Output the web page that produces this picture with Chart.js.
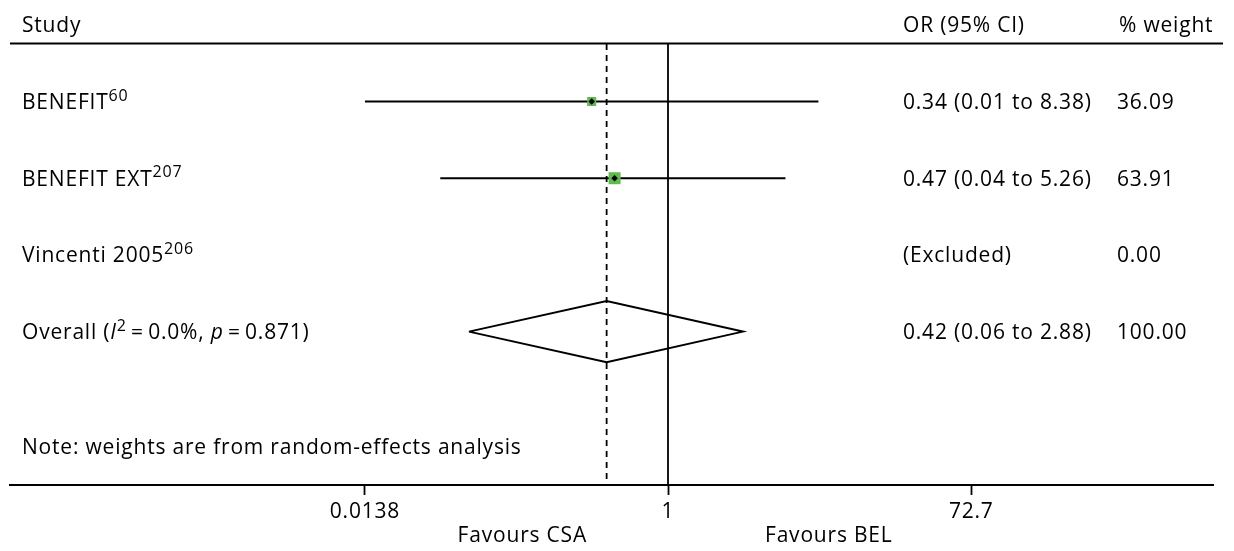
<!DOCTYPE html>
<html>
<head>
<meta charset="utf-8">
<script src="https://cdn.jsdelivr.net/npm/chart.js@4.4.1/dist/chart.umd.min.js"></script>
<style>
  html, body { margin: 0; padding: 0; background: #fff; }
  #wrap { width: 1234px; height: 551px; position: relative; }
</style>
</head>
<body>
<div id="wrap"><canvas id="c" width="1234" height="551"></canvas></div>
<script>
// ---- data ----
const studies = ['BENEFIT', 'BENEFIT EXT', 'Vincenti 2005'];
const refs = ['60', '207', '206'];
const orValues = [0.34, 0.47, null];
const ciLow = [0.01, 0.04, null];
const ciHigh = [8.38, 5.26, null];
const weights = [36.09, 63.91, 0.00];
const overallOR = 0.42;
const overallLow = 0.06;
const overallHigh = 2.88;
const i2Text = '0.0%';
const pText = '0.871';
const tickValues = [0.0138, 1, 72.7];
const tickLabels = ['0.0138', '1', '72.7'];
const favourLabels = ['Favours CSA', 'Favours BEL'];
const noteText = 'Note: weights are from random-effects analysis';

// ---- layout / style ----
const FONT = '"Open Sans", "Noto Sans", sans-serif';
const FS = 21;
const LS = '0.8px';
const GREEN = '#5fba4f';
const Y_TOP = 0.25, Y_BOTTOM = 6;
const X_MIN = 9.14e-5, X_MAX = 2215;
const tickMin = tickValues[0], tickMax = tickValues[tickValues.length - 1];
const TS = '\u2009';

const datasets = [];
studies.forEach((s, i) => {
  if (orValues[i] == null) return;
  const row = i + 1;
  datasets.push({
    data: [{x: Math.max(ciLow[i], tickMin), y: row}, {x: Math.min(ciHigh[i], tickMax), y: row}],
    showLine: true, borderColor: '#000', borderWidth: 2, pointRadius: 0, order: 3
  });
  datasets.push({
    data: [{x: orValues[i], y: row}],
    pointStyle: 'rect', pointRadius: 1.5 * Math.sqrt(weights[i]) / Math.SQRT2,
    backgroundColor: GREEN, borderWidth: 0, order: 1
  });
  datasets.push({
    data: [{x: orValues[i], y: row}],
    pointStyle: 'rectRot', pointRadius: 3.2,
    backgroundColor: '#000', borderWidth: 0, order: 0
  });
});
const ovRow = studies.length + 1;
datasets.push({
  data: [{x: overallLow, y: ovRow}, {x: overallOR, y: ovRow - 0.4}, {x: overallHigh, y: ovRow},
         {x: overallOR, y: ovRow + 0.4}, {x: overallLow, y: ovRow}],
  showLine: true, borderColor: '#000', borderWidth: 2, pointRadius: 0, fill: false, order: 2
});
datasets.push({
  data: [{x: 1, y: Y_TOP}, {x: 1, y: Y_BOTTOM}],
  showLine: true, borderColor: '#000', borderWidth: 1.8, pointRadius: 0, order: 4
});
datasets.push({
  data: [{x: overallOR, y: Y_TOP}, {x: overallOR, y: Y_BOTTOM}],
  showLine: true, borderColor: '#000', borderWidth: 1.8, borderDash: [6, 5], pointRadius: 0, order: 4
});

function drawRich(ctx, segs, x, y) {
  let cx = x;
  segs.forEach(sg => {
    const size = sg.sup ? 16 : FS;
    ctx.font = (sg.it ? 'italic ' : '') + size + 'px ' + FONT;
    ctx.fillText(sg.t, cx, sg.sup ? y - 8.5 : y);
    cx += ctx.measureText(sg.t).width;
  });
}

const spacingPlugin = {
  id: 'spacing',
  beforeDraw(chart) { chart.ctx.letterSpacing = LS; }
};

const textPlugin = {
  id: 'forestText',
  afterDraw(chart) {
    const ctx = chart.ctx;
    const ys = chart.scales.y;
    ctx.save();
    ctx.letterSpacing = LS;
    ctx.fillStyle = '#000';
    ctx.textBaseline = 'alphabetic';
    ctx.textAlign = 'left';
    // header
    ctx.font = FS + 'px ' + FONT;
    ctx.fillText('Study', 22, 31.5);
    ctx.fillText('OR (95% CI)', 903, 31.5);
    ctx.fillText('% weight', 1119, 31.5);
    ctx.strokeStyle = '#000';
    ctx.lineWidth = 2;
    ctx.beginPath();
    ctx.moveTo(10, 43.5);
    ctx.lineTo(1223, 43.5);
    ctx.stroke();
    const off = 7.5;
    studies.forEach((s, i) => {
      const y = ys.getPixelForValue(i + 1) + off;
      drawRich(ctx, [{t: s}, {t: refs[i], sup: true}], 22, y);
      ctx.font = FS + 'px ' + FONT;
      const txt = orValues[i] == null ? '(Excluded)' :
        orValues[i].toFixed(2) + ' (' + ciLow[i].toFixed(2) + ' to ' + ciHigh[i].toFixed(2) + ')';
      ctx.fillText(txt, 903, y);
      ctx.fillText(weights[i].toFixed(2), 1117, y);
    });
    const yo = ys.getPixelForValue(ovRow) + off;
    drawRich(ctx, [{t: 'Overall ('}, {t: 'I', it: true}, {t: '2', sup: true}, {t: TS + '=' + TS + i2Text + ', '},
                   {t: 'p', it: true}, {t: TS + '=' + TS + pText + ')'}], 22, yo);
    ctx.font = FS + 'px ' + FONT;
    ctx.fillText(overallOR.toFixed(2) + ' (' + overallLow.toFixed(2) + ' to ' + overallHigh.toFixed(2) + ')', 903, yo);
    const totalW = weights.reduce((a, b) => a + b, 0);
    ctx.fillText(totalW.toFixed(2), 1117, yo);
    ctx.fillText(noteText, 22, ys.getPixelForValue(ovRow + 1.5) + off);
    // favours
    ctx.textAlign = 'right';
    ctx.fillText(favourLabels[0], 587, 542);
    ctx.textAlign = 'left';
    ctx.fillText(favourLabels[1], 765, 542);
    ctx.restore();
  }
};

new Chart(document.getElementById('c'), {
  type: 'scatter',
  data: { datasets },
  plugins: [spacingPlugin, textPlugin],
  options: {
    responsive: false,
    animation: false,
    events: [],
    layout: { padding: { top: 44, left: 10, right: 21, bottom: 0 } },
    plugins: { legend: { display: false }, tooltip: { enabled: false } },
    scales: {
      x: {
        type: 'logarithmic',
        min: X_MIN, max: X_MAX,
        afterBuildTicks: s => { s.ticks = tickValues.map(v => ({ value: v })); },
        afterFit: s => { s.height = 66; },
        ticks: {
          callback: (v, i) => tickLabels[i],
          font: { family: FONT, size: FS }, color: '#000',
          padding: 4, maxRotation: 0, autoSkip: false
        },
        grid: { drawOnChartArea: false, drawTicks: true, tickLength: 10, tickColor: '#000', tickWidth: 1.8 },
        border: { color: '#000', width: 2 }
      },
      y: {
        type: 'linear', reverse: true, min: Y_TOP, max: Y_BOTTOM, display: false
      }
    }
  }
});
</script>
</body>
</html>
